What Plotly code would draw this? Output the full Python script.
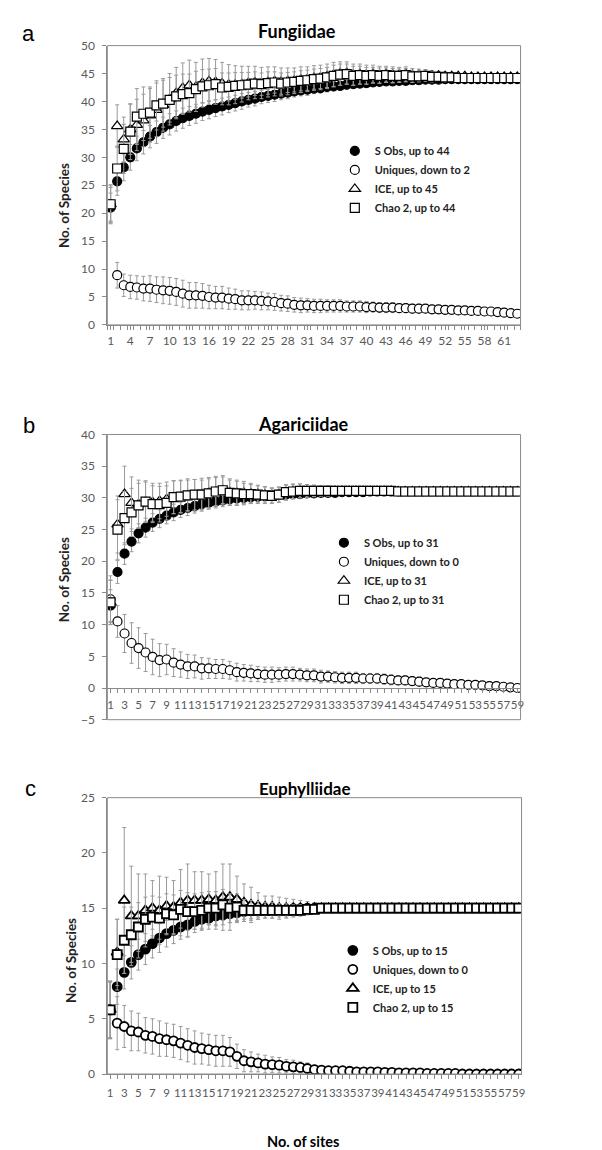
import plotly.graph_objects as go

# ---- panel a: Fungiidae (63 sites) ----
sites_a = list(range(1, 64))
sobs_a = [21.0, 25.7, 28.2, 30.0, 31.6, 32.7, 33.7, 34.5, 35.3, 35.9,
          36.5, 37.0, 37.4, 37.8, 38.2, 38.5, 38.8, 39.1, 39.4, 39.7,
          40.0, 40.3, 40.5, 40.8, 41.0, 41.2, 41.4, 41.6, 41.8, 42.0,
          42.1, 42.3, 42.4, 42.6, 42.7, 42.8, 43.0, 43.1, 43.2, 43.3,
          43.4, 43.5, 43.6, 43.6, 43.7, 43.7, 43.8, 43.8, 43.9, 43.9,
          43.9, 44.0, 44.0, 44.0, 44.0, 44.0, 44.0, 44.0, 44.0, 44.0,
          44.0, 44.0, 44.0]
sobs_a_sd = [2.6, 2.5, 2.4, 2.3, 2.2, 2.1, 2.0, 2.0, 1.9, 1.9,
             1.8, 1.8, 1.7, 1.7, 1.6, 1.6, 1.5, 1.5, 1.4, 1.4,
             1.4, 1.3, 1.3, 1.2, 1.2, 1.2, 1.1, 1.1, 1.0, 1.0,
             1.0, 0.9, 0.9, 0.9, 0.8, 0.8, 0.8, 0.7, 0.7, 0.7,
             0.6, 0.6, 0.6, 0.5, 0.5, 0.5, 0.4, 0.4, 0.4, 0.3,
             0.3, 0.3, 0.3, 0.2, 0.2, 0.2, 0.2, 0.1, 0.1, 0.1,
             0.1, 0.0, 0.0]
uniq_a = [21.6, 8.9, 7.1, 6.8, 6.7, 6.5, 6.5, 6.3, 6.2, 6.1,
          5.9, 5.6, 5.3, 5.3, 5.2, 5.0, 4.9, 4.9, 4.7, 4.6,
          4.4, 4.4, 4.4, 4.3, 4.2, 4.1, 3.9, 3.8, 3.6, 3.5,
          3.5, 3.4, 3.4, 3.4, 3.4, 3.4, 3.3, 3.3, 3.3, 3.2,
          3.2, 3.1, 3.1, 3.1, 3.0, 3.0, 2.9, 2.9, 2.9, 2.8,
          2.8, 2.7, 2.7, 2.6, 2.6, 2.5, 2.5, 2.4, 2.4, 2.3,
          2.2, 2.1, 2.0]
uniq_a_sd = [3.3, 2.3, 2.0, 2.1, 2.1, 2.2, 2.3, 2.3, 2.4, 2.4,
             2.4, 2.4, 2.3, 2.3, 2.2, 2.1, 2.0, 2.0, 1.9, 1.8,
             1.7, 1.7, 1.6, 1.6, 1.5, 1.5, 1.4, 1.4, 1.3, 1.3,
             1.2, 1.2, 1.2, 1.1, 1.1, 1.1, 1.0, 1.0, 1.0, 1.0,
             0.9, 0.9, 0.9, 0.9, 0.8, 0.8, 0.8, 0.8, 0.7, 0.7,
             0.7, 0.7, 0.6, 0.6, 0.6, 0.5, 0.5, 0.5, 0.4, 0.4,
             0.3, 0.3, 0.2]
ice_a = [21.6, 35.6, 33.2, 35.0, 35.8, 36.6, 37.5, 38.5, 39.4, 40.4,
         41.5, 42.4, 42.9, 42.6, 43.3, 43.6, 43.5, 43.2, 43.0, 43.0,
         43.1, 43.3, 43.4, 43.3, 43.5, 43.6, 43.5, 43.6, 43.7, 43.9,
         44.0, 44.2, 44.3, 44.5, 44.8, 45.0, 45.1, 44.8, 44.9, 44.8,
         44.9, 44.8, 44.9, 44.8, 44.8, 44.9, 44.7, 44.7, 44.7, 44.6,
         44.6, 44.5, 44.5, 44.5, 44.5, 44.4, 44.4, 44.4, 44.4, 44.4,
         44.4, 44.4, 44.4]
ice_a_sd = [3.5, 3.8, 4.0, 4.5, 4.6, 4.7, 4.8, 4.8, 4.7, 4.6,
            4.6, 4.5, 4.5, 4.4, 4.3, 4.1, 4.0, 3.8, 3.6, 3.4,
            3.2, 3.0, 2.9, 2.8, 2.7, 2.6, 2.5, 2.4, 2.3, 2.3,
            2.2, 2.2, 2.2, 2.2, 2.2, 2.1, 2.0, 1.9, 1.8, 1.7,
            1.6, 1.5, 1.4, 1.4, 1.3, 1.3, 1.2, 1.1, 1.0, 0.9,
            0.8, 0.8, 0.7, 0.6, 0.6, 0.5, 0.5, 0.4, 0.4, 0.3,
            0.3, 0.3, 0.2]
chao_a = [21.6, 28.0, 31.5, 34.6, 37.3, 37.8, 38.0, 39.3, 39.6, 40.3,
          40.9, 41.3, 41.5, 42.2, 42.7, 42.9, 43.1, 42.5, 42.6, 42.8,
          42.9, 43.0, 43.2, 43.1, 43.3, 43.4, 43.2, 43.4, 43.5, 43.7,
          43.8, 44.0, 44.1, 44.3, 44.6, 44.8, 44.9, 44.6, 44.7, 44.6,
          44.7, 44.6, 44.7, 44.6, 44.6, 44.7, 44.5, 44.5, 44.6, 44.4,
          44.4, 44.3, 44.3, 44.2, 44.2, 44.2, 44.2, 44.2, 44.2, 44.2,
          44.2, 44.2, 44.2]
chao_a_sd = [3.0, 4.0, 4.4, 5.0, 5.0, 4.8, 4.6, 4.4, 4.2, 4.0,
             3.8, 3.6, 3.4, 3.2, 3.0, 2.9, 2.8, 2.6, 2.5, 2.4,
             2.3, 2.2, 2.1, 2.0, 2.0, 1.9, 1.9, 1.8, 1.8, 1.8,
             1.8, 1.8, 1.8, 1.8, 1.9, 1.9, 1.8, 1.7, 1.6, 1.5,
             1.4, 1.4, 1.3, 1.3, 1.2, 1.2, 1.1, 1.0, 1.0, 0.9,
             0.8, 0.8, 0.7, 0.6, 0.6, 0.5, 0.5, 0.4, 0.4, 0.3,
             0.3, 0.3, 0.2]
labels_a = ["S Obs, up to 44", "Uniques, down to 2", "ICE, up to 45", "Chao 2, up to 44"]

# ---- panel b: Agariciidae (59 sites) ----
sites_b = list(range(1, 60))
sobs_b = [13.0, 18.3, 21.2, 23.1, 24.4, 25.3, 26.1, 26.7, 27.2, 27.7,
          28.1, 28.4, 28.7, 29.0, 29.2, 29.4, 29.6, 29.8, 29.9, 30.0,
          30.1, 30.2, 30.3, 30.4, 30.5, 30.5, 30.6, 30.6, 30.7, 30.7,
          30.8, 30.8, 30.8, 30.9, 30.9, 30.9, 30.9, 31.0, 31.0, 31.0,
          31.0, 31.0, 31.0, 31.0, 31.0, 31.0, 31.0, 31.0, 31.0, 31.0,
          31.0, 31.0, 31.0, 31.0, 31.0, 31.0, 31.0, 31.0, 31.0]
sobs_b_sd = [2.5, 1.8, 1.7, 1.6, 1.5, 1.5, 1.4, 1.4, 1.3, 1.3,
             1.2, 1.2, 1.1, 1.1, 1.0, 1.0, 1.0, 0.9, 0.9, 0.9,
             0.8, 0.8, 0.8, 0.7, 0.7, 0.7, 0.6, 0.6, 0.6, 0.5,
             0.5, 0.5, 0.4, 0.4, 0.4, 0.3, 0.3, 0.3, 0.3, 0.2,
             0.2, 0.2, 0.2, 0.2, 0.1, 0.1, 0.1, 0.1, 0.1, 0.1,
             0.0, 0.0, 0.0, 0.0, 0.0, 0.0, 0.0, 0.0, 0.0]
uniq_b = [14.0, 10.5, 8.6, 7.1, 6.3, 5.6, 4.9, 4.4, 4.5, 4.0,
          3.7, 3.4, 3.4, 3.1, 3.1, 3.0, 3.0, 2.8, 2.5, 2.4,
          2.3, 2.2, 2.1, 2.1, 2.1, 2.2, 2.2, 2.1, 2.0, 2.0,
          1.8, 1.8, 1.7, 1.6, 1.6, 1.6, 1.5, 1.5, 1.5, 1.4,
          1.3, 1.2, 1.2, 1.1, 1.0, 0.9, 0.8, 0.8, 0.7, 0.6,
          0.6, 0.5, 0.5, 0.4, 0.3, 0.3, 0.2, 0.1, 0.0]
uniq_b_sd = [3.7, 2.5, 3.0, 3.2, 3.2, 3.0, 2.8, 2.6, 2.4, 2.2,
             2.0, 1.9, 1.8, 1.7, 1.6, 1.5, 1.5, 1.4, 1.4, 1.3,
             1.3, 1.2, 1.2, 1.2, 1.1, 1.1, 1.1, 1.0, 1.0, 1.0,
             1.0, 0.9, 0.9, 0.9, 0.9, 0.9, 0.8, 0.8, 0.8, 0.8,
             0.8, 0.7, 0.7, 0.7, 0.7, 0.6, 0.6, 0.6, 0.6, 0.5,
             0.5, 0.5, 0.4, 0.4, 0.3, 0.3, 0.2, 0.1, 0.0]
ice_b = [13.5, 25.8, 30.6, 29.2, 29.0, 29.4, 29.3, 29.5, 29.8, 30.1,
         30.2, 30.4, 30.4, 30.6, 30.8, 31.0, 31.2, 30.9, 30.8, 30.8,
         30.7, 30.6, 30.5, 30.4, 30.5, 30.8, 31.0, 31.1, 31.1, 31.1,
         31.1, 31.1, 31.1, 31.1, 31.1, 31.1, 31.1, 31.1, 31.1, 31.1,
         31.1, 31.0, 31.0, 31.0, 31.0, 31.0, 31.0, 31.0, 31.0, 31.0,
         31.0, 31.0, 31.0, 31.0, 31.0, 31.0, 31.0, 31.0, 31.0]
ice_b_sd = [3.5, 4.5, 4.4, 4.1, 3.8, 3.3, 3.0, 2.8, 2.7, 2.6,
            2.6, 2.6, 2.5, 2.5, 2.4, 2.4, 2.3, 2.1, 2.0, 1.8,
            1.6, 1.4, 1.3, 1.2, 1.2, 1.2, 1.2, 1.1, 1.0, 0.9,
            0.8, 0.8, 0.7, 0.7, 0.6, 0.6, 0.5, 0.5, 0.5, 0.4,
            0.4, 0.4, 0.3, 0.3, 0.3, 0.3, 0.2, 0.2, 0.2, 0.2,
            0.1, 0.1, 0.1, 0.1, 0.1, 0.0, 0.0, 0.0, 0.0]
chao_b = [13.5, 25.0, 26.8, 27.7, 28.8, 29.4, 29.0, 29.0, 29.2, 30.1,
          30.2, 30.4, 30.5, 30.5, 30.7, 31.0, 31.2, 30.8, 30.7, 30.6,
          30.6, 30.5, 30.4, 30.3, 30.5, 30.9, 31.0, 31.1, 31.1, 31.1,
          31.1, 31.1, 31.1, 31.1, 31.1, 31.1, 31.1, 31.1, 31.1, 31.1,
          31.1, 31.0, 31.0, 31.0, 31.0, 31.0, 31.0, 31.0, 31.0, 31.0,
          31.0, 31.0, 31.0, 31.0, 31.0, 31.0, 31.0, 31.0, 31.0]
chao_b_sd = [3.5, 4.7, 4.2, 3.8, 3.5, 3.1, 2.9, 2.8, 2.7, 2.6,
             2.5, 2.4, 2.4, 2.3, 2.3, 2.2, 2.1, 2.0, 1.9, 1.7,
             1.5, 1.4, 1.3, 1.2, 1.2, 1.2, 1.1, 1.1, 1.0, 0.9,
             0.8, 0.8, 0.7, 0.7, 0.6, 0.6, 0.5, 0.5, 0.5, 0.4,
             0.4, 0.4, 0.3, 0.3, 0.3, 0.3, 0.2, 0.2, 0.2, 0.2,
             0.1, 0.1, 0.1, 0.1, 0.1, 0.0, 0.0, 0.0, 0.0]
labels_b = ["S Obs, up to 31", "Uniques, down to 0", "ICE, up to 31", "Chao 2, up to 31"]

# ---- panel c: Euphylliidae (59 sites) ----
sites_c = list(range(1, 60))
sobs_c = [5.8, 7.9, 9.2, 10.1, 10.8, 11.3, 11.8, 12.3, 12.7, 13.0,
          13.3, 13.5, 13.8, 14.0, 14.1, 14.3, 14.4, 14.5, 14.6, 14.7,
          14.75, 14.8, 14.85, 14.9, 14.9, 14.9, 14.95, 14.95, 15.0, 15.0,
          15.0, 15.0, 15.0, 15.0, 15.0, 15.0, 15.0, 15.0, 15.0, 15.0,
          15.0, 15.0, 15.0, 15.0, 15.0, 15.0, 15.0, 15.0, 15.0, 15.0,
          15.0, 15.0, 15.0, 15.0, 15.0, 15.0, 15.0, 15.0, 15.0]
sobs_c_sd = [2.5, 1.6, 1.5, 1.5, 1.4, 1.4, 1.3, 1.3, 1.2, 1.2,
             1.1, 1.1, 1.0, 1.0, 1.0, 0.9, 0.9, 0.8, 0.8, 0.7,
             0.7, 0.6, 0.5, 0.5, 0.4, 0.4, 0.3, 0.3, 0.2, 0.2,
             0.1, 0.1, 0.1, 0.1, 0.0, 0.0, 0.0, 0.0, 0.0, 0.0,
             0.0, 0.0, 0.0, 0.0, 0.0, 0.0, 0.0, 0.0, 0.0, 0.0,
             0.0, 0.0, 0.0, 0.0, 0.0, 0.0, 0.0, 0.0, 0.0]
uniq_c = [5.8, 4.6, 4.3, 3.9, 3.8, 3.5, 3.4, 3.2, 3.1, 3.0,
          2.8, 2.6, 2.4, 2.3, 2.2, 2.1, 2.1, 2.0, 1.6, 1.2,
          1.1, 1.0, 0.9, 0.85, 0.8, 0.7, 0.65, 0.6, 0.5, 0.4,
          0.35, 0.3, 0.3, 0.3, 0.25, 0.2, 0.2, 0.2, 0.2, 0.15,
          0.15, 0.1, 0.1, 0.1, 0.1, 0.05, 0.05, 0.05, 0.05, 0.05,
          0.0, 0.0, 0.0, 0.0, 0.0, 0.0, 0.0, 0.0, 0.0]
uniq_c_sd = [2.6, 2.4, 1.9, 1.8, 1.7, 1.6, 1.6, 1.6, 1.5, 1.5,
             1.5, 1.5, 1.5, 1.4, 1.4, 1.4, 1.4, 1.3, 1.1, 1.0,
             0.9, 0.8, 0.8, 0.7, 0.7, 0.6, 0.6, 0.5, 0.5, 0.4,
             0.4, 0.3, 0.3, 0.3, 0.3, 0.2, 0.2, 0.2, 0.2, 0.2,
             0.1, 0.1, 0.1, 0.1, 0.1, 0.1, 0.1, 0.1, 0.1, 0.1,
             0.0, 0.0, 0.0, 0.0, 0.0, 0.0, 0.0, 0.0, 0.0]
ice_c = [5.8, 11.0, 15.7, 14.3, 14.3, 14.8, 15.0, 14.8, 15.2, 15.1,
         15.5, 15.7, 15.7, 15.7, 15.8, 15.7, 16.0, 16.0, 15.8, 15.5,
         15.3, 15.2, 15.1, 15.1, 15.0, 15.0, 15.0, 15.0, 15.0, 15.0,
         15.0, 15.0, 15.0, 15.0, 15.0, 15.0, 15.0, 15.0, 15.0, 15.0,
         15.0, 15.0, 15.0, 15.0, 15.0, 15.0, 15.0, 15.0, 15.0, 15.0,
         15.0, 15.0, 15.0, 15.0, 15.0, 15.0, 15.0, 15.0, 15.0]
ice_c_sd = [2.6, 3.0, 6.6, 4.5, 3.8, 3.3, 2.5, 3.1, 2.6, 2.4,
            3.0, 3.3, 2.6, 2.6, 2.3, 2.6, 3.0, 3.0, 2.1, 1.7,
            1.6, 1.2, 1.0, 1.0, 1.0, 0.9, 0.8, 0.7, 0.6, 0.5,
            0.4, 0.4, 0.3, 0.3, 0.2, 0.2, 0.2, 0.1, 0.1, 0.1,
            0.0, 0.0, 0.0, 0.0, 0.0, 0.0, 0.0, 0.0, 0.0, 0.0,
            0.0, 0.0, 0.0, 0.0, 0.0, 0.0, 0.0, 0.0, 0.0]
chao_c = [5.8, 10.8, 12.1, 12.6, 13.3, 14.0, 14.2, 14.1, 14.5, 14.4,
          14.9, 14.7, 14.7, 14.8, 15.0, 15.0, 15.3, 15.0, 15.1, 14.8,
          14.8, 14.8, 14.8, 14.8, 14.8, 14.8, 14.8, 14.8, 14.9, 14.9,
          15.0, 15.0, 15.0, 15.0, 15.0, 15.0, 15.0, 15.0, 15.0, 15.0,
          15.0, 15.0, 15.0, 15.0, 15.0, 15.0, 15.0, 15.0, 15.0, 15.0,
          15.0, 15.0, 15.0, 15.0, 15.0, 15.0, 15.0, 15.0, 15.0]
chao_c_sd = [2.6, 3.2, 3.0, 2.5, 2.2, 2.0, 1.9, 1.9, 1.8, 1.8,
             1.7, 1.7, 1.6, 1.6, 1.5, 1.5, 1.4, 1.3, 1.2, 1.0,
             0.9, 0.8, 0.7, 0.7, 0.6, 0.6, 0.5, 0.5, 0.4, 0.4,
             0.3, 0.3, 0.2, 0.2, 0.2, 0.1, 0.1, 0.1, 0.0, 0.0,
             0.0, 0.0, 0.0, 0.0, 0.0, 0.0, 0.0, 0.0, 0.0, 0.0,
             0.0, 0.0, 0.0, 0.0, 0.0, 0.0, 0.0, 0.0, 0.0]
labels_c = ["S Obs, up to 15", "Uniques, down to 0", "ICE, up to 15", "Chao 2, up to 15"]

W, H = 602, 1150
FONT = "Lato, Carlito, Calibri, sans-serif"
LINE = "#8a8a8a"
ERR = "#9a9a9a"
TICKC = "#595959"

SYMBOLS = ["circle", "circle", "triangle-up", "square"]
FILLS = ["black", "white", "white", "white"]


def px_x(p):
    return p / W


def px_y(p):
    return 1 - p / H


fig = go.Figure()


def add_panel(n, sites, series, sds, labels, legend, msize, mline):
    xa = "x" if n == 1 else f"x{n}"
    ya = "y" if n == 1 else f"y{n}"
    for i, (vals, sd, lab) in enumerate(zip(series, sds, labels)):
        fig.add_trace(go.Scatter(
            x=sites, y=vals, mode="markers", name=lab,
            marker=dict(symbol=SYMBOLS[i], size=msize if i != 2 else msize + 1,
                        color=FILLS[i], line=dict(color="black", width=mline)),
            error_y=dict(type="data", array=sd, visible=True, color=ERR,
                         thickness=1, width=2),
            xaxis=xa, yaxis=ya, legend=legend,
        ))
    # plot-area frame
    fig.add_shape(type="rect", xref=f"{xa} domain", yref=f"{ya} domain",
                  x0=0, x1=1, y0=0, y1=1, line=dict(color=LINE, width=1))


add_panel(1, sites_a, [sobs_a, uniq_a, ice_a, chao_a],
          [sobs_a_sd, uniq_a_sd, ice_a_sd, chao_a_sd], labels_a, "legend", 9, 1.2)
add_panel(2, sites_b, [sobs_b, uniq_b, ice_b, chao_b],
          [sobs_b_sd, uniq_b_sd, ice_b_sd, chao_b_sd], labels_b, "legend2", 9, 1.2)
add_panel(3, sites_c, [sobs_c, uniq_c, ice_c, chao_c],
          [sobs_c_sd, uniq_c_sd, ice_c_sd, chao_c_sd], labels_c, "legend3", 9, 1.8)

base = dict(showgrid=False, zeroline=False, showline=True, linecolor=LINE, linewidth=1,
            ticks="outside", ticklen=4, tickcolor=LINE, tickangle=0,
            tickfont=dict(family=FONT, size=12, color=TICKC))

# y domains in pixels: a 30-313, b 424-713, c 792-1072
yb_top, yb_bot = 424, 713
zero_b = yb_top + (yb_bot - yb_top) * 40 / 45

fig.update_layout(
    xaxis=dict(base, domain=[px_x(100), px_x(516)], range=[0.5, 63.5], anchor="y",
               tick0=1, dtick=3, ticklabelstandoff=1,
               minor=dict(ticks="outside", ticklen=4, tickcolor=LINE, tick0=0.5, dtick=1)),
    yaxis=dict(base, domain=[px_y(313), px_y(30)], range=[0, 50], dtick=5, anchor="x",
               ticklabelstandoff=5),
    xaxis2=dict(base, domain=[px_x(100), px_x(516)], range=[0.55, 59.45],
                anchor="free", position=px_y(zero_b), tick0=1, dtick=2,
                ticklabelstandoff=2, tickfont=dict(family=FONT, size=11.5, color=TICKC),
                minor=dict(ticks="outside", ticklen=4, tickcolor=LINE, tick0=1, dtick=1)),
    yaxis2=dict(base, domain=[px_y(yb_bot), px_y(yb_top)], range=[-5, 40], dtick=5,
                anchor="x2", ticklabelstandoff=5),
    xaxis3=dict(base, domain=[px_x(100), px_x(517)], range=[0.6, 59.4], anchor="y3",
                tick0=1, dtick=2, ticklabelstandoff=4,
                tickfont=dict(family=FONT, size=11.5, color=TICKC),
                minor=dict(ticks="outside", ticklen=4, tickcolor=LINE, tick0=1, dtick=1)),
    yaxis3=dict(base, domain=[px_y(1072), px_y(792)], range=[0, 25], dtick=5,
                anchor="x3", ticklabelstandoff=5),
)

leg = dict(bgcolor="rgba(0,0,0,0)", borderwidth=0, itemwidth=30, tracegroupgap=0,
           xanchor="left", yanchor="top", itemclick=False,
           font=dict(family=FONT, size=11, color="#222222", weight="bold"))
fig.update_layout(
    legend=dict(leg, x=px_x(329), y=px_y(122)),
    legend2=dict(leg, x=px_x(318), y=px_y(519)),
    legend3=dict(leg, x=px_x(327), y=px_y(932)),
)

annots = [
    ("a", 21, 18, 22, "normal"), ("b", 21, 415, 22, "normal"), ("c", 23, 783, 22, "normal"),
    ("Fungiidae", 291, 15, 18, "bold"), ("Agariciidae", 297, 413, 18, "bold"),
    ("Euphylliidae", 299, 783, 17, "bold"), ("No. of sites", 297, 1140, 14.5, "bold"),
]
for txt, x, y, size, weight in annots:
    fig.add_annotation(text=txt, x=px_x(x), y=px_y(y), xref="paper", yref="paper",
                       showarrow=False, xanchor="center", yanchor="middle",
                       font=dict(family=FONT if txt not in "abc" else "Liberation Sans",
                                 size=size, color="black", weight=weight))
for x, y in [(57, 192), (56, 571), (63, 957)]:
    fig.add_annotation(text="No. of Species", x=px_x(x), y=px_y(y), xref="paper", yref="paper",
                       showarrow=False, textangle=-90, xanchor="center", yanchor="middle",
                       font=dict(family=FONT, size=13.5, color="#222222", weight="bold"))

fig.update_layout(
    width=W, height=H, autosize=False,
    margin=dict(l=0, r=0, t=0, b=0),
    paper_bgcolor="white", plot_bgcolor="white",
    showlegend=True,
)

fig.write_html("out.html")
